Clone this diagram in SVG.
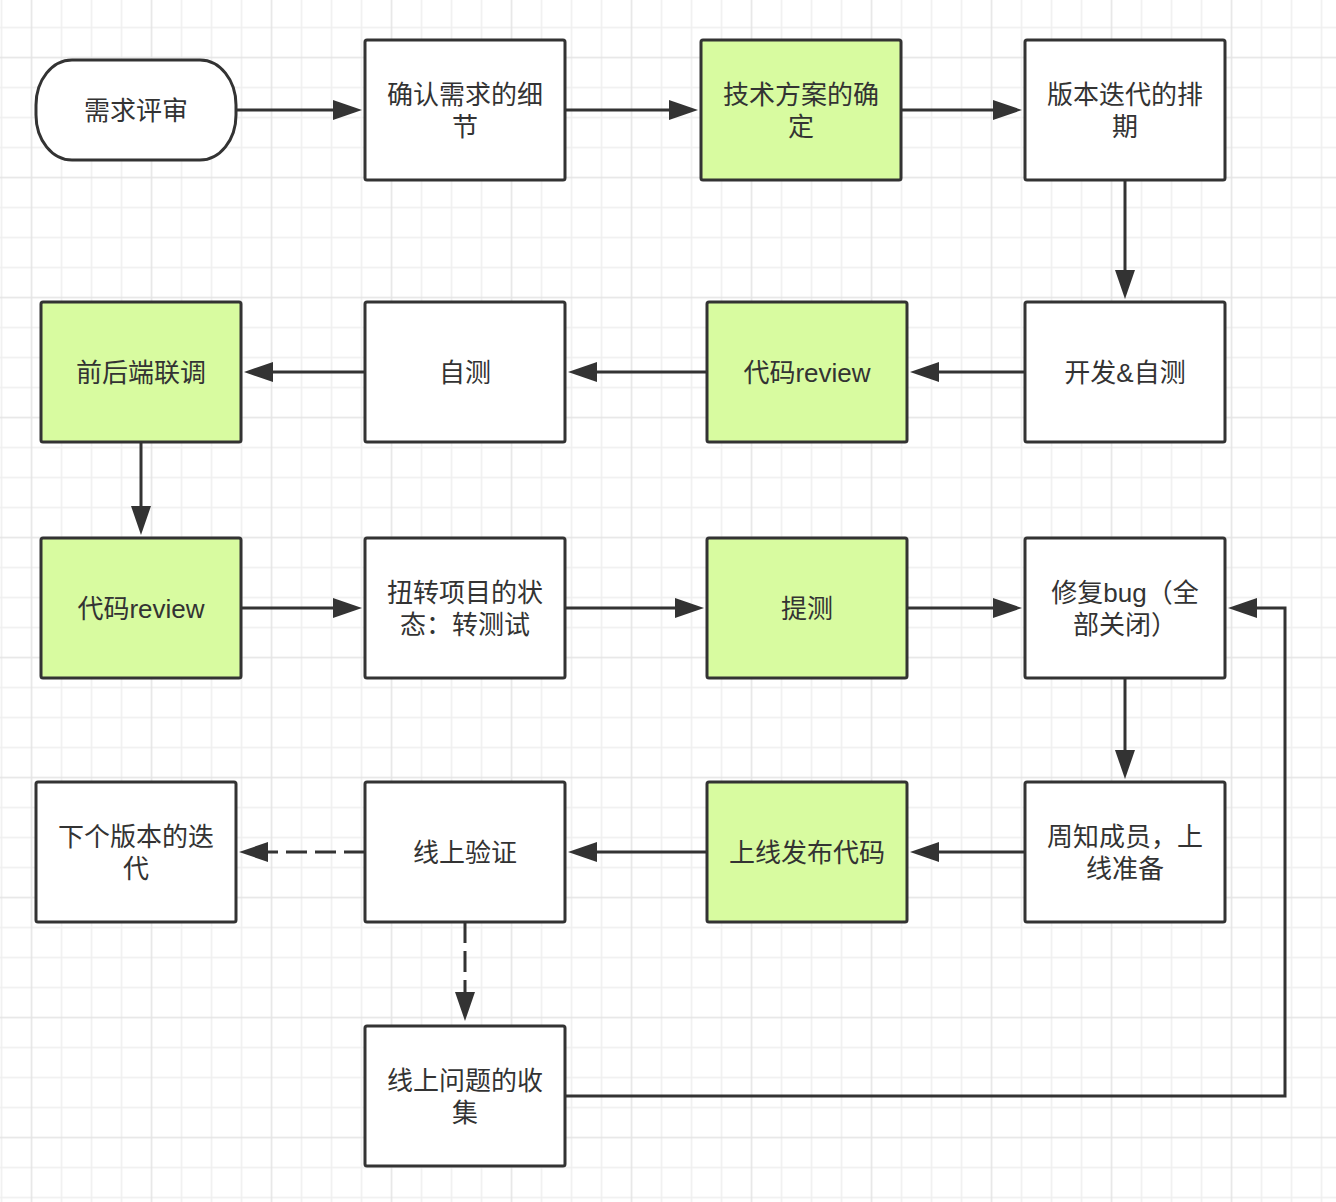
<svg xmlns="http://www.w3.org/2000/svg" width="1336" height="1202" viewBox="0 0 1336 1202">
<style>
.box{fill:#ffffff;stroke:#333333;stroke-width:3}
.green{fill:#d8fba0}
.t{font-family:"Liberation Sans","Noto Sans CJK SC",sans-serif;font-size:26px;fill:#333333;text-anchor:middle}
.c{fill:none;stroke:#333333;stroke-width:3}
.d{stroke-dasharray:21 8}
</style>
<defs>
<pattern id="grid" patternUnits="userSpaceOnUse" x="30.7" y="56.7" width="120" height="120">
<rect x="0" y="0" width="120" height="120" fill="#ffffff"/>
<rect x="30" y="0" width="1.5" height="120" fill="#efefef"/>
<rect x="60" y="0" width="1.5" height="120" fill="#efefef"/>
<rect x="90" y="0" width="1.5" height="120" fill="#efefef"/>
<rect x="0" y="30" width="120" height="1.5" fill="#efefef"/>
<rect x="0" y="60" width="120" height="1.5" fill="#efefef"/>
<rect x="0" y="90" width="120" height="1.5" fill="#efefef"/>
<rect x="0" y="0" width="1.5" height="120" fill="#e4e4e4"/>
<rect x="0" y="0" width="120" height="1.5" fill="#e4e4e4"/>
</pattern>
<marker id="arr" markerUnits="userSpaceOnUse" markerWidth="30" markerHeight="22" viewBox="0 0 30 22" refX="19" refY="10" orient="auto">
<path d="M0,0 L29,10 L0,20 Z" fill="#333333"/>
</marker>
</defs>
<rect x="0" y="0" width="1336" height="1202" fill="url(#grid)"/>

<g id="connectors">
<path class="c" d="M236,110 H352" marker-end="url(#arr)"/>
<path class="c" d="M565,110 H688" marker-end="url(#arr)"/>
<path class="c" d="M901,110 H1012" marker-end="url(#arr)"/>
<path class="c" d="M1125,180 V289" marker-end="url(#arr)"/>
<path class="c" d="M1025,372 H920" marker-end="url(#arr)"/>
<path class="c" d="M707,372 H578" marker-end="url(#arr)"/>
<path class="c" d="M365,372 H254" marker-end="url(#arr)"/>
<path class="c" d="M141,442 V525" marker-end="url(#arr)"/>
<path class="c" d="M241,608 H352" marker-end="url(#arr)"/>
<path class="c" d="M565,608 H694" marker-end="url(#arr)"/>
<path class="c" d="M907,608 H1012" marker-end="url(#arr)"/>
<path class="c" d="M1125,678 V769" marker-end="url(#arr)"/>
<path class="c" d="M1025,852 H920" marker-end="url(#arr)"/>
<path class="c" d="M707,852 H578" marker-end="url(#arr)"/>
<path class="c d" d="M365,852 H249" marker-end="url(#arr)"/>
<path class="c d" d="M465,922 V1011" marker-end="url(#arr)"/>
<path class="c" d="M565,1096 H1285 V608 H1238" marker-end="url(#arr)"/>
</g>

<g id="n1"><rect class="box" x="36" y="60" width="200" height="100" rx="36" ry="45"/><text class="t" x="136" y="119.5">需求评审</text></g>
<g id="n2"><rect class="box" x="365" y="40" width="200" height="140" rx="2"/><text class="t" x="465" y="104">确认需求的细</text><text class="t" x="465" y="135.5">节</text></g>
<g id="n3"><rect class="box green" x="701" y="40" width="200" height="140" rx="2"/><text class="t" x="801" y="104">技术方案的确</text><text class="t" x="801" y="135.5">定</text></g>
<g id="n4"><rect class="box" x="1025" y="40" width="200" height="140" rx="2"/><text class="t" x="1125" y="104">版本迭代的排</text><text class="t" x="1125" y="135.5">期</text></g>

<g id="n5"><rect class="box" x="1025" y="302" width="200" height="140" rx="2"/><text class="t" x="1125" y="381.5">开发&amp;自测</text></g>
<g id="n6"><rect class="box green" x="707" y="302" width="200" height="140" rx="2"/><text class="t" x="807" y="381.5">代码review</text></g>
<g id="n7"><rect class="box" x="365" y="302" width="200" height="140" rx="2"/><text class="t" x="465" y="381.5">自测</text></g>
<g id="n8"><rect class="box green" x="41" y="302" width="200" height="140" rx="2"/><text class="t" x="141" y="381.5">前后端联调</text></g>

<g id="n9"><rect class="box green" x="41" y="538" width="200" height="140" rx="2"/><text class="t" x="141" y="617.5">代码review</text></g>
<g id="n10"><rect class="box" x="365" y="538" width="200" height="140" rx="2"/><text class="t" x="465" y="602">扭转项目的状</text><text class="t" x="465" y="633.5">态：转测试</text></g>
<g id="n11"><rect class="box green" x="707" y="538" width="200" height="140" rx="2"/><text class="t" x="807" y="617.5">提测</text></g>
<g id="n12"><rect class="box" x="1025" y="538" width="200" height="140" rx="2"/><text class="t" x="1125" y="602">修复bug（全</text><text class="t" x="1125" y="633.5">部关闭）</text></g>

<g id="n13"><rect class="box" x="1025" y="782" width="200" height="140" rx="2"/><text class="t" x="1125" y="846">周知成员，上</text><text class="t" x="1125" y="877.5">线准备</text></g>
<g id="n14"><rect class="box green" x="707" y="782" width="200" height="140" rx="2"/><text class="t" x="807" y="861.5">上线发布代码</text></g>
<g id="n15"><rect class="box" x="365" y="782" width="200" height="140" rx="2"/><text class="t" x="465" y="861.5">线上验证</text></g>
<g id="n16"><rect class="box" x="36" y="782" width="200" height="140" rx="2"/><text class="t" x="136" y="846">下个版本的迭</text><text class="t" x="136" y="877.5">代</text></g>

<g id="n17"><rect class="box" x="365" y="1026" width="200" height="140" rx="2"/><text class="t" x="465" y="1090">线上问题的收</text><text class="t" x="465" y="1121.5">集</text></g>
</svg>
